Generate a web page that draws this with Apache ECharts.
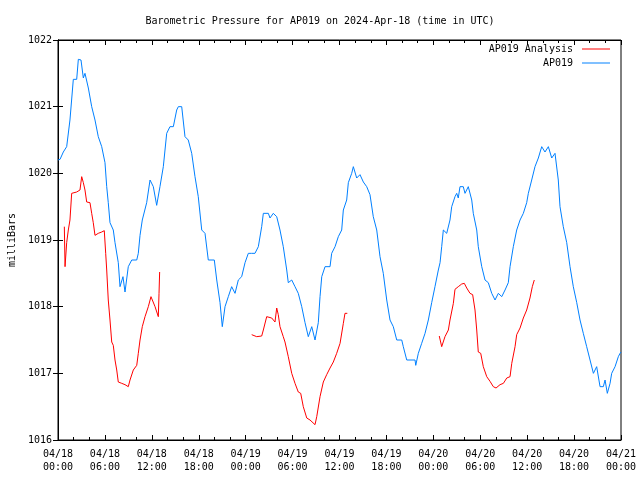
<!DOCTYPE html>
<html>
<head>
<meta charset="utf-8">
<script src="https://cdn.jsdelivr.net/npm/echarts@6/dist/echarts.min.js"></script>
<style>html,body{margin:0;padding:0;background:#fff}#c{width:640px;height:480px}</style>
</head>
<body>
<div id="c"></div>
<script>
// Hours since 2024-04-18 00:00 UTC
var startUTC = Date.UTC(2024, 3, 18, 0, 0);
var yTicks = [1016, 1017, 1018, 1019, 1020, 1021, 1022];

var blueHours = [0,0.26,0.68,1.11,1.53,1.96,2.39,2.6,2.94,3.24,3.45,3.88,4.31,4.73,5.15,5.59,6.01,6.23,6.43,6.65,7.07,7.29,7.71,7.93,8.31,8.57,8.99,9.43,10.07,10.27,10.49,10.78,11.34,11.77,12.19,12.62,13.04,13.47,13.9,14.32,14.75,15.18,15.39,15.82,16.24,16.66,17.1,17.52,17.94,18.38,18.8,19.22,19.99,20.3,20.72,21.01,21.36,21.78,22.21,22.64,23.06,23.49,23.92,24.34,24.77,25.19,25.62,26.05,26.26,26.9,27.11,27.53,27.97,28.39,28.81,29.25,29.45,29.89,30.31,30.73,31.17,31.59,32.01,32.45,32.87,33.29,33.51,33.73,34.15,34.79,35,35.43,35.85,36.28,36.49,36.92,37.13,37.56,37.77,38.2,38.62,39.05,39.48,39.9,40.32,40.76,41.18,41.6,42.04,42.46,42.88,43.32,43.96,44.16,44.6,45.66,45.75,46.08,46.51,46.94,47.36,47.79,48.21,48.64,48.86,49.07,49.28,49.71,50.13,50.35,50.77,50.99,51.19,51.41,51.83,52.05,52.47,52.91,53.11,53.55,53.75,54.19,54.61,55.03,55.47,55.89,56.31,56.75,57.17,57.59,57.81,58.23,58.66,59.09,59.51,59.94,60.15,60.58,61,61.43,61.86,62.28,62.71,63.14,63.56,63.98,64.2,64.62,65.06,65.48,65.9,66.34,66.76,67.18,67.61,68.04,68.47,68.89,69.32,69.74,69.96,70.25,70.6,70.81,71.24,71.66,71.88,72];
var blueValues = [1020.2,1020.21,1020.32,1020.4,1020.8,1021.41,1021.41,1021.71,1021.7,1021.43,1021.5,1021.28,1021.0,1020.8,1020.55,1020.4,1020.16,1019.8,1019.56,1019.26,1019.15,1018.96,1018.66,1018.3,1018.45,1018.22,1018.6,1018.7,1018.7,1018.8,1019.07,1019.3,1019.56,1019.9,1019.8,1019.52,1019.8,1020.1,1020.6,1020.7,1020.7,1020.95,1021.0,1021.0,1020.55,1020.5,1020.3,1019.95,1019.65,1019.15,1019.1,1018.7,1018.7,1018.4,1018.06,1017.7,1018.0,1018.15,1018.3,1018.2,1018.4,1018.45,1018.66,1018.8,1018.8,1018.8,1018.9,1019.2,1019.4,1019.4,1019.33,1019.4,1019.35,1019.15,1018.9,1018.55,1018.36,1018.4,1018.3,1018.2,1018.0,1017.76,1017.55,1017.7,1017.5,1017.76,1018.15,1018.45,1018.6,1018.6,1018.8,1018.9,1019.05,1019.15,1019.45,1019.6,1019.86,1020.0,1020.1,1019.93,1019.98,1019.87,1019.8,1019.68,1019.35,1019.15,1018.75,1018.5,1018.1,1017.8,1017.7,1017.5,1017.5,1017.4,1017.2,1017.2,1017.12,1017.3,1017.45,1017.6,1017.8,1018.06,1018.3,1018.55,1018.66,1018.9,1019.15,1019.1,1019.3,1019.5,1019.65,1019.7,1019.63,1019.8,1019.8,1019.7,1019.8,1019.6,1019.4,1019.15,1018.9,1018.6,1018.4,1018.36,1018.2,1018.1,1018.2,1018.15,1018.25,1018.36,1018.6,1018.9,1019.15,1019.3,1019.4,1019.56,1019.7,1019.9,1020.1,1020.23,1020.4,1020.32,1020.4,1020.23,1020.3,1019.9,1019.5,1019.2,1018.96,1018.6,1018.3,1018.06,1017.8,1017.6,1017.4,1017.2,1017.0,1017.1,1016.8,1016.8,1016.9,1016.7,1016.85,1017.0,1017.1,1017.25,1017.3,1017.32];

// Analysis series; null marks a gap
var redHours = [0.81,0.9,1.11,1.32,1.53,1.75,2.39,2.81,3.03,3.24,3.45,3.67,4.09,4.31,4.51,4.73,5.15,5.59,5.92,6.1,6.23,6.43,6.65,6.87,7.07,7.29,7.51,7.71,8.15,8.57,8.99,9.21,9.63,10.07,10.27,10.49,10.78,11.13,11.55,11.89,12.41,12.83,12.92,13.0,
  18.0,
  24.77,25.41,26.05,26.26,26.69,26.9,27.33,27.75,27.97,28.17,28.39,28.81,29.03,29.45,29.89,30.31,30.73,31.04,31.37,31.81,32.23,32.87,33.09,33.51,33.93,34.36,34.79,35.21,35.64,36.07,36.49,36.7,37.0,
  42.0,
  48.76,49.07,49.49,49.92,50.13,50.56,50.77,51.19,51.63,51.96,52.27,52.69,53.03,53.33,53.55,53.75,54.06,54.39,54.83,55.25,55.67,56.02,56.53,56.96,57.39,57.81,58.03,58.45,58.66,59.09,59.51,59.94,60.36,60.66,60.91];
var redValues = [1019.2,1018.6,1018.96,1019.15,1019.3,1019.7,1019.72,1019.75,1019.95,1019.86,1019.75,1019.57,1019.56,1019.4,1019.26,1019.07,1019.1,1019.12,1019.14,1018.8,1018.55,1018.1,1017.8,1017.47,1017.42,1017.2,1017.05,1016.87,1016.85,1016.83,1016.8,1016.9,1017.05,1017.12,1017.3,1017.5,1017.7,1017.85,1018.0,1018.15,1018.0,1017.85,1018.2,1018.52,
  null,
  1017.58,1017.55,1017.56,1017.65,1017.85,1017.88,1017.83,1017.77,1017.98,1017.88,1017.7,1017.55,1017.47,1017.25,1017.0,1016.85,1016.72,1016.7,1016.5,1016.33,1016.3,1016.23,1016.35,1016.65,1016.87,1016.98,1017.08,1017.17,1017.3,1017.45,1017.75,1017.9,1017.9,
  null,
  1017.56,1017.4,1017.55,1017.65,1017.8,1018.05,1018.26,1018.3,1018.34,1018.35,1018.28,1018.2,1018.18,1017.95,1017.65,1017.32,1017.3,1017.1,1016.95,1016.88,1016.8,1016.78,1016.83,1016.85,1016.93,1016.95,1017.15,1017.4,1017.58,1017.68,1017.83,1017.95,1018.13,1018.3,1018.4];

function pairs(xs, ys) {
  return xs.map(function (x, i) { return [x, ys[i] === null ? '-' : ys[i]]; });
}
function pad(n) { return (n < 10 ? '0' : '') + n; }
function fmtHour(h) {
  var d = new Date(startUTC + h * 3600000);
  return pad(d.getUTCMonth() + 1) + '/' + pad(d.getUTCDate()) + '\n' + pad(d.getUTCHours()) + ':' + pad(d.getUTCMinutes());
}

var FONT = 'DejaVu Sans Mono';
var chart = echarts.init(document.getElementById('c'), null, { renderer: 'canvas' });
var tickCommon = { show: true, inside: true, length: 5, lineStyle: { color: '#000', width: 1 } };
chart.setOption({
  animation: false,
  backgroundColor: '#fff',
  title: {
    text: 'Barometric Pressure for AP019 on 2024-Apr-18 (time in UTC)',
    left: 'center', top: 11,
    textStyle: { fontFamily: FONT, fontSize: 10, fontWeight: 'normal', color: '#000' }
  },
  legend: {
    orient: 'vertical', right: 25, top: 38, align: 'right',
    itemWidth: 28, itemHeight: 1, itemGap: 2,
    data: [{ name: 'AP019 Analysis', icon: 'rect' }, { name: 'AP019', icon: 'rect' }],
    textStyle: { fontFamily: FONT, fontSize: 10, color: '#000', lineHeight: 12, padding: [0, 4, 0, 0] }
  },
  grid: { left: 58, right: 19, top: 40, bottom: 40, show: true, borderColor: '#000', borderWidth: 1, containLabel: false, outerBoundsMode: 'none' },
  xAxis: [{
    type: 'value', min: 0, max: 72, interval: 6,
    axisLine: { show: true, lineStyle: { color: '#000' } },
    axisTick: tickCommon,
    minorTick: { show: true, splitNumber: 3, length: 3, lineStyle: { color: '#000' } },
    splitLine: { show: false },
    axisLabel: { formatter: fmtHour, fontFamily: FONT, fontSize: 10, color: '#000', lineHeight: 13, margin: 8 }
  }, {
    type: 'value', min: 0, max: 72, interval: 6, position: 'top',
    axisLine: { show: true, lineStyle: { color: '#000' } },
    axisTick: tickCommon,
    minorTick: { show: true, splitNumber: 3, length: 3, lineStyle: { color: '#000' } },
    splitLine: { show: false }, axisLabel: { show: false }
  }],
  yAxis: [{
    type: 'value', min: yTicks[0], max: yTicks[yTicks.length - 1], interval: 1,
    name: 'milliBars', nameLocation: 'middle', nameGap: 38, nameRotate: 90,
    nameTextStyle: { fontFamily: FONT, fontSize: 10, color: '#000' },
    axisLine: { show: true, lineStyle: { color: '#000' } },
    axisTick: tickCommon, splitLine: { show: false },
    axisLabel: { formatter: function (v) { return String(v); }, fontFamily: FONT, fontSize: 10, color: '#000', margin: 6 }
  }, {
    type: 'value', min: yTicks[0], max: yTicks[yTicks.length - 1], interval: 1, position: 'right',
    axisLine: { show: true, lineStyle: { color: '#000' } },
    axisTick: tickCommon, splitLine: { show: false }, axisLabel: { show: false }
  }],
  series: [{
    name: 'AP019 Analysis', type: 'line', showSymbol: false, symbol: 'none',
    data: pairs(redHours, redValues), connectNulls: false,
    lineStyle: { color: '#ff0000', width: 1 }, itemStyle: { color: '#ff0000' }, z: 3
  }, {
    name: 'AP019', type: 'line', showSymbol: false, symbol: 'none',
    data: pairs(blueHours, blueValues),
    lineStyle: { color: '#0080ff', width: 1 }, itemStyle: { color: '#0080ff' }, z: 2
  }]
});
</script>
</body>
</html>
